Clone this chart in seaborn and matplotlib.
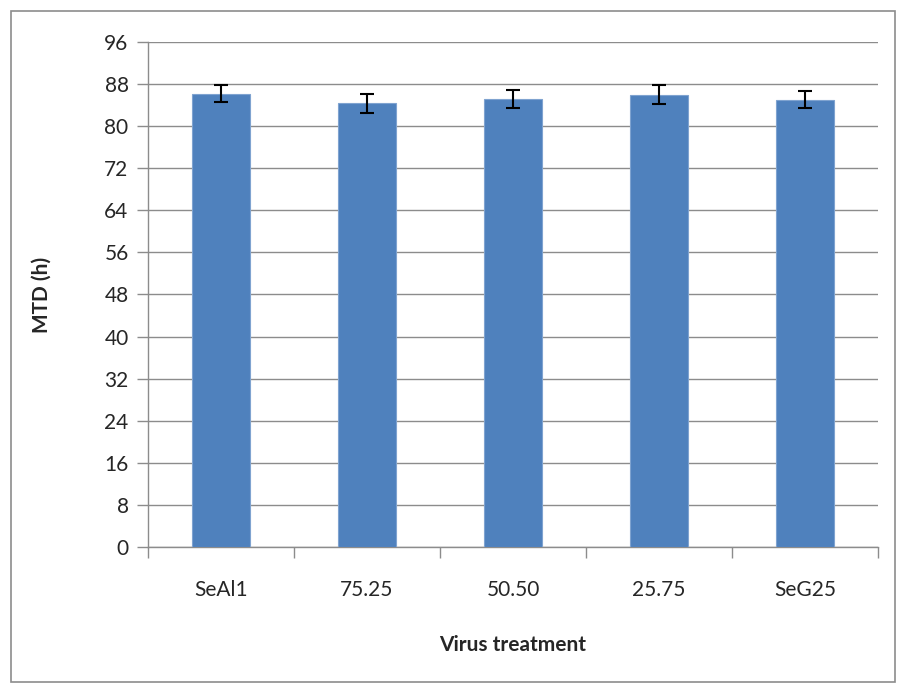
import numpy as np
import pandas as pd
import matplotlib
matplotlib.use("Agg")
import matplotlib.pyplot as plt
import seaborn as sns
from matplotlib.patches import Rectangle

# Data
treatments = ["SeAl1", "75.25", "50.50", "25.75", "SeG25"]
mtd = [86.2, 84.35, 85.2, 86.0, 85.05]
mtd_err = [1.7, 1.8, 1.7, 1.8, 1.65]
y_ticks = [0, 8, 16, 24, 32, 40, 48, 56, 64, 72, 80, 88, 96]

df = pd.DataFrame({"treatment": treatments, "mtd": mtd, "err": mtd_err})

sns.set_style("white")
plt.rcParams["font.family"] = ["Lato", "DejaVu Sans"]

fig = plt.figure(figsize=(8.97, 6.84), dpi=100)
ax = fig.add_axes([0.165, 0.2003, 0.814, 0.7383])

sns.barplot(data=df, x="treatment", y="mtd", color="#4F81BD", width=0.4,
            saturation=1, edgecolor="#7FA3D0", linewidth=0.8, ax=ax, zorder=3)
ax.errorbar(np.arange(len(treatments)), df["mtd"], yerr=df["err"], fmt="none",
            ecolor="black", elinewidth=1.5, capsize=5, capthick=1.5, zorder=4)

ax.set_ylim(0, 96)
ax.set_xlim(-0.5, len(treatments) - 0.5)
ax.set_yticks(y_ticks)
ax.yaxis.grid(True, color="#8C8C8C", linewidth=1, zorder=0)
ax.set_axisbelow(True)

# category boundary ticks on x axis
ax.set_xticks(np.arange(-0.5, len(treatments)), minor=True)
ax.tick_params(axis="x", which="major", bottom=False, length=0, pad=24, labelsize=15)
ax.tick_params(axis="x", which="minor", bottom=True, length=8, width=1,
               color="#8C8C8C", direction="out")
ax.tick_params(axis="y", left=True, length=8, width=1, color="#8C8C8C",
               direction="out", pad=6, labelsize=15)

for side in ["top", "right"]:
    ax.spines[side].set_visible(False)
for side in ["left", "bottom"]:
    ax.spines[side].set_color("#8C8C8C")
    ax.spines[side].set_linewidth(1)

ax.set_xlabel("Virus treatment", fontsize=15, fontweight="bold", labelpad=25)
ax.set_ylabel("MTD (h)", fontsize=15, fontweight="bold", labelpad=38)

# outer chart border
fig.patches.append(Rectangle((11 / 897, 0.003), 0.985, 1 - 11 / 684 - 0.003,
                             transform=fig.transFigure, fill=False,
                             edgecolor="#8C8C8C", linewidth=1.2))

fig.savefig("out.png", dpi=100)
